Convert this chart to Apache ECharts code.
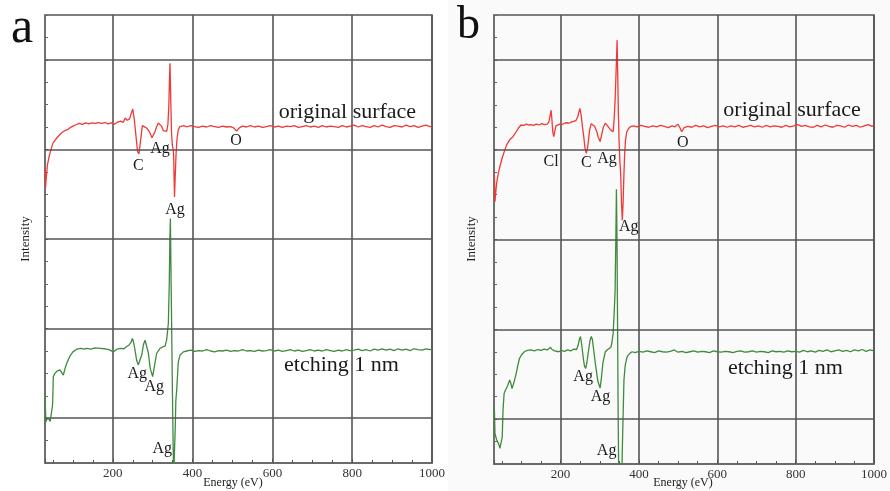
<!DOCTYPE html>
<html><head><meta charset="utf-8">
<script src="https://cdn.jsdelivr.net/npm/echarts@6/dist/echarts.min.js"></script>
<style>html,body{margin:0;padding:0;background:#fff}#c{width:890px;height:491px}</style>
</head><body><div id="c"></div>
<script>
// ---- data ----
const X_TICKS = [200, 400, 600, 800, 1000];
const H_GRID = [10, 30, 50, 70, 90];

const redA = [[30,65.4],[31.5,61.5],[33,63.5],[36,66.5],[40,68.3],[45,70.0],[50,71.4],[55,72.0],[60,72.6],[66,73.2],[72,73.7],[80,74.2],[86,74.4],[92,74.8],[100,75.2],[108,75.5],[116,75.8],[124,75.6],[132,75.9],[140,75.7],[148,75.9],[156,75.8],[164,76.0],[172,75.8],[180,76.0],[188,75.7],[196,75.9],[204,75.6],[212,76.1],[220,76.3],[226,76.0],[231,77.0],[236,76.5],[242,76.8],[246,78.0],[250,79.0],[254,76.5],[258,73.0],[262,69.5],[265.5,69.0],[269,71.5],[274,75.3],[279,75.6],[284,74.8],[289,74.3],[294,73.5],[298,72.6],[301.5,72.5],[305,73.8],[310,75.1],[314,75.9],[318,76.3],[322,75.2],[326.5,74.2],[331,74.0],[335,74.0],[338,75.5],[340.5,80],[342,86],[343.3,89.2],[345,82],[347,74],[349,71],[351.5,69.9],[352.5,68.5],[353.5,64],[354.6,59.4],[356,63],[358.5,69],[361,72.5],[364,74.3],[368,75.1],[372,75.0],[378,75.3],[385,75.0],[395,75.3],[405,75.1],[415,74.9],[425,75.2],[435,75.0],[445,75.3],[455,75.1],[465,74.9],[475,75.2],[485,75.0],[495,75.1],[503,74.8],[510,74.1],[517,74.8],[525,75.2],[535,75.0],[545,75.3],[555,75.0],[565,75.2],[575,74.9],[585,75.1],[595,75.3],[605,75.0],[615,75.2],[625,74.9],[635,75.2],[645,75.1],[655,75.3],[665,74.9],[675,75.1],[685,75.3],[695,75.0],[705,75.2],[715,74.9],[725,75.3],[735,75.0],[745,75.2],[755,75.1],[765,74.9],[775,75.3],[785,75.0],[795,75.2],[805,75.4],[815,75.0],[825,75.3],[835,75.1],[845,74.9],[855,75.3],[865,75.0],[875,75.4],[885,75.1],[895,74.9],[905,75.3],[915,75.2],[925,75.0],[935,75.4],[945,75.1],[955,75.3],[965,74.9],[975,75.2],[985,75.4],[995,75.1],[1000,75.2]];

const greenA = [[30,15.6],[31.5,11],[32.5,9.2],[34,9.8],[37,9.4],[40,9.8],[43,9.3],[46.7,9.6],[49,13],[50.9,19.3],[55,20.0],[60,20.5],[63.4,20.4],[67.6,20.8],[71.8,20.6],[76,19.6],[80,21.0],[84.3,22.2],[92.7,23.9],[100,24.8],[109.4,25.4],[120,25.6],[127,25.4],[134.5,25.6],[145,25.4],[155,25.7],[167.9,25.6],[180,25.5],[190,25.3],[201.3,24.8],[210,25.4],[220,25.6],[228,25.5],[234.7,26.0],[240,26.3],[245,26.8],[249,27.8],[252,27.0],[255.6,25.2],[260,22.8],[264,21.9],[268,23.0],[272.4,24.1],[277,26.5],[280.7,27.4],[285,26.0],[289.1,24.5],[294,21.0],[299.9,19.3],[305,22.0],[310,24.5],[318.3,25.6],[325,25.9],[330.9,26.1],[335,27.5],[339.2,31.2],[341.5,40],[343,50],[344.3,54.6],[345.5,45],[347.5,30],[349.5,15],[351,5],[352.5,-3],[355,-3],[356.5,8],[358,14],[360.1,16.3],[364,22.5],[368.4,24.1],[376.8,24.8],[385,25.0],[395,25.2],[405,24.9],[415,25.1],[425,25.0],[435,25.3],[445,25.0],[455,24.8],[465,25.1],[475,25.0],[485,25.2],[495,24.9],[505,25.1],[515,25.0],[525,25.3],[535,25.0],[545,25.1],[555,24.9],[565,25.2],[575,25.0],[585,25.1],[595,25.3],[605,25.0],[615,25.2],[625,24.9],[635,25.1],[645,25.3],[655,25.0],[665,25.2],[675,24.9],[685,25.1],[695,25.3],[705,25.0],[715,25.2],[725,25.0],[735,25.3],[745,25.1],[755,24.9],[765,25.2],[775,25.0],[785,25.3],[795,25.1],[805,25.2],[815,25.4],[825,25.1],[835,25.3],[845,25.0],[855,25.4],[865,25.2],[875,25.5],[885,25.2],[895,25.4],[905,25.1],[915,25.5],[925,25.2],[935,25.4],[945,25.1],[955,25.5],[965,25.3],[975,25.2],[985,25.5],[995,25.3],[1000,25.4]];

const redB = [[30.8,64.7],[32.5,58.4],[34.5,60.5],[36.7,62.5],[41,64.8],[45,66.2],[51,68.2],[57.5,69.9],[63,71.2],[70,72.2],[74,72.5],[78.3,72.9],[82,73.3],[86.7,74.0],[93,74.9],[99.2,75.5],[106,75.4],[113,75.7],[119,75.5],[124.2,75.6],[131,75.4],[138,75.7],[145,75.5],[152,75.8],[159,75.6],[165.8,75.7],[170,76.2],[173,77.5],[175.8,78.8],[178,76.5],[180,74],[182.5,72.9],[185,74],[188,75.3],[192,75.5],[198,75.7],[204,75.6],[210,75.9],[216,76.0],[222,75.9],[228,76.2],[234,76.3],[240,76.6],[244,77.4],[249.2,79.2],[252,78],[255.8,75.1],[259,73.0],[262,70.5],[265.8,69.2],[269,70.5],[272,72.8],[274.2,74.4],[278,75.8],[282.5,76.0],[287,75.2],[292.5,74.0],[296,72.8],[300.8,71.8],[304,73.0],[309,75.0],[314.2,75.9],[319,75.4],[324.2,74.8],[329,74.3],[334.2,74.0],[336.5,76.5],[339.2,81.1],[341.5,87],[344.2,94.4],[346,86],[347.5,78],[349.2,72.2],[351,68],[353.3,64.7],[355.5,58],[357.5,54.3],[359.5,58],[361.7,64.7],[363.5,69],[365.8,72.2],[369,74],[374.2,74.8],[380,75.2],[386.7,75.3],[395,75.1],[405,75.4],[415,75.2],[425,75.0],[435,75.3],[445,75.1],[455,75.4],[465,75.2],[475,74.9],[485,75.3],[492,75.1],[499.2,75.7],[504,75.0],[509.2,74.0],[515,74.9],[525,75.2],[535,75.0],[545,75.4],[555,75.1],[565,75.3],[575,74.9],[585,75.2],[595,75.4],[605,75.1],[615,75.3],[625,75.0],[635,75.3],[645,75.1],[655,75.4],[665,75.0],[675,75.2],[685,75.4],[695,75.1],[705,75.3],[715,75.0],[725,75.4],[735,75.1],[745,75.3],[755,75.2],[765,75.0],[775,75.4],[785,75.1],[795,75.3],[805,75.6],[815,75.2],[825,75.4],[835,75.1],[845,75.0],[855,75.4],[865,75.1],[875,75.5],[885,75.2],[895,75.0],[905,75.4],[915,75.3],[925,75.0],[935,75.5],[945,75.2],[955,75.4],[965,75.0],[975,75.3],[985,75.6],[995,75.2],[1000,75.4]];

const greenB = [[30.8,12.8],[32.5,6.8],[36.7,5.4],[40.8,5.0],[43,4.2],[45,3.5],[49.2,3.5],[51,6],[53,12],[55.8,15.7],[58,16.2],[61.7,16.4],[65,17.5],[70,18.7],[73,18.0],[76,16.8],[78.3,16.4],[82,18.5],[86.7,20.2],[91,22],[95,23.5],[101,24.4],[107.5,25.0],[115,25.3],[124.2,25.4],[133,25.2],[142,25.5],[150,25.3],[158,25.6],[166,25.4],[171,25.8],[174.2,26.0],[178,25.5],[185,25.2],[190,25.0],[195,25.0],[202,25.3],[210,25.1],[218,25.4],[226,25.2],[234,25.6],[240.8,25.5],[245,26.5],[248,27.8],[250.8,28.4],[254,26.5],[258,23.5],[261,21.8],[264.2,21.3],[267,22.5],[271,25.0],[275,27.5],[278.3,28.4],[281,27.8],[285,25],[290,21.5],[295,18.5],[300.8,16.9],[304,19],[308,22.5],[314.2,25.0],[320,25.5],[328.3,26.0],[331,27],[334.2,29.2],[337,34],[339.2,38.8],[341,50],[342.5,61.2],[344,50],[345.5,30],[347,10],[348.5,-3],[356,-3],[358,5],[361.7,18.7],[365,22],[370,23.9],[376,24.6],[382.5,25.0],[390,24.8],[400,25.1],[410,24.9],[420,25.2],[430,25.0],[440,24.8],[450,25.2],[460,25.0],[470,24.9],[480,25.1],[490,25.4],[500,24.9],[510,25.1],[520,24.8],[530,25.0],[540,25.2],[550,24.9],[560,25.1],[570,25.0],[580,24.8],[590,25.2],[600,25.0],[610,24.9],[620,25.1],[630,25.0],[640,24.8],[650,25.1],[660,25.2],[670,24.9],[680,25.0],[690,25.2],[700,24.9],[710,25.1],[720,25.0],[730,24.8],[740,25.2],[750,25.0],[760,25.1],[770,24.9],[780,25.2],[790,25.0],[800,25.1],[810,24.9],[820,25.3],[830,25.0],[840,25.2],[850,24.9],[860,25.3],[870,25.1],[880,25.4],[890,25.0],[900,25.2],[910,25.4],[920,25.1],[930,25.3],[940,25.0],[950,25.4],[960,25.2],[970,25.5],[980,25.1],[990,25.4],[1000,25.2]];

const annRedA = [['original surface',788,78.3],['C',263.8,66.4],['Ag',318.2,70.2],['O',508.7,71.9],['Ag',355.8,56.6]];
const annGreenA = [['etching 1 nm',773,21.9],['Ag',261.4,19.9],['Ag',304,17.0],['Ag',324,3.1]];
const annRedB = [['original surface',790.8,78.8],['Cl',175.8,67.3],['C',265.8,67.0],['Ag',318.3,67.9],['O',511.7,71.6],['Ag',374.2,52.9]];
const annGreenB = [['etching 1 nm',773.7,21.4],['Ag',257.5,19.4],['Ag',301.7,15.0],['Ag',317.5,2.9]];

// ---- styling ----
const SERIF = '"Liberation Serif","DejaVu Serif",serif';
const GRIDC = '#555555';
const RED = '#ef3a36';
const GREEN = '#3f8a3f';

function xAx(gi){
  return {type:'value', gridIndex:gi, min:30, max:1000, splitNumber:5,
    axisLine:{show:true, lineStyle:{color:'#666', width:1.6}},
    axisTick:{show:true, inside:true, length:4, lineStyle:{color:'#555'}},
    minorTick:{show:true, splitNumber:4, length:3, lineStyle:{color:'#555'}},
    minorSplitLine:{show:false},
    splitLine:{show:true, lineStyle:{color:GRIDC, width:1.6}},
    axisLabel:{color:'#333', fontFamily:SERIF, fontSize:13, margin:4,
      formatter: v => X_TICKS.includes(v) ? String(v) : ''}
  };
}
function yAx(gi){
  return {type:'value', gridIndex:gi, min:0, max:100, interval:5,
    axisLine:{show:true, lineStyle:{color:'#777', width:1.6}},
    axisTick:{show:true, inside:true, length:3, lineStyle:{color:'#666'}},
    axisLabel:{show:false}, splitLine:{show:false}
  };
}
function ann(list){
  return {silent:true, symbol:'rect', symbolSize:1, itemStyle:{color:'rgba(0,0,0,0)'},
    label:{show:true, position:'inside', formatter:'{b}', color:'#1a1a1a', fontFamily:SERIF, fontSize:16},
    data: list.map(a => ({name:a[0], coord:[a[1], a[2]], label:{fontSize: a[0].length > 3 ? 22 : 16}}))
  };
}
function hgrid(){
  return {silent:true, symbol:['none','none'], label:{show:false},
    lineStyle:{color:GRIDC, width:1.6, type:'solid'},
    data: H_GRID.map(v => ({yAxis:v}))};
}
function line(data, color, xi, extra){
  return Object.assign({type:'line', xAxisIndex:xi, yAxisIndex:xi, data:data, showSymbol:false,
    symbol:'none', clip:true, lineStyle:{color:color, width:1.3}, itemStyle:{color:color}, z:3}, extra||{});
}

const chart = echarts.init(document.getElementById('c'), null, {renderer:'canvas'});
chart.setOption({
  animation:false,
  backgroundColor: new echarts.graphic.LinearGradient(0,0,1,0,[
    {offset:0,color:'#ffffff'},{offset:0.503,color:'#ffffff'},
    {offset:0.504,color:'#fafafa'},{offset:1,color:'#fafafa'}]),
  grid:[
    {left:45, top:15, width:387, height:448, show:true, borderColor:GRIDC, borderWidth:1.6, backgroundColor:'transparent'},
    {left:494, top:15, width:388, height:449, show:true, borderColor:GRIDC, borderWidth:1.6, backgroundColor:'transparent'}
  ],
  xAxis:[xAx(0), xAx(1)],
  yAxis:[yAx(0), yAx(1)],
  series:[
    line([], GRIDC, 0, {markLine:hgrid(), z:1}),
    line([], GRIDC, 1, {markLine:hgrid(), z:1}),
    line(redA, RED, 0, {markPoint:ann(annRedA)}),
    line(greenA, GREEN, 0, {markPoint:ann(annGreenA)}),
    line(redB, RED, 1, {markPoint:ann(annRedB)}),
    line(greenB, GREEN, 1, {markPoint:ann(annGreenB)})
  ],
  graphic:[
    {type:'text', left:11, top:4, style:{text:'a', font:'50px '+SERIF, fill:'#111'}},
    {type:'text', left:457, top:3, style:{text:'b', font:'46px '+SERIF, fill:'#111'}},
    {type:'text', x:26, y:239, rotation:Math.PI/2, style:{text:'Intensity', font:'13px '+SERIF, fill:'#222', align:'center', verticalAlign:'middle'}},
    {type:'text', x:472, y:239, rotation:Math.PI/2, style:{text:'Intensity', font:'13px '+SERIF, fill:'#222', align:'center', verticalAlign:'middle'}},
    {type:'text', x:233, y:483, style:{text:'Energy (eV)', font:'12px '+SERIF, fill:'#222', align:'center', verticalAlign:'middle'}},
    {type:'text', x:683, y:483, style:{text:'Energy (eV)', font:'12px '+SERIF, fill:'#222', align:'center', verticalAlign:'middle'}}
  ]
});
</script>
</body></html>
